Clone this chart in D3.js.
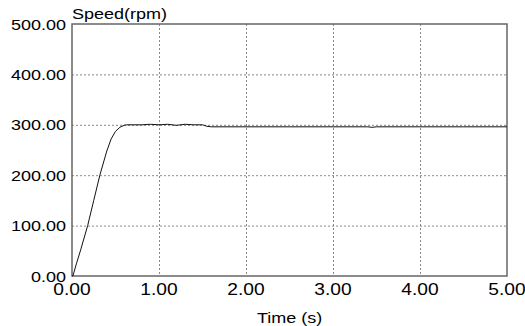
<!DOCTYPE html>
<html>
<head>
<meta charset="utf-8">
<script src="https://cdn.jsdelivr.net/npm/d3@7"></script>
<style>
  body { margin: 0; background: #fff; }
  text { font-family: "Liberation Sans", Arial, sans-serif; fill: #000; }
</style>
</head>
<body>
<script>
// speed response
var time  = [0, 0.01, 0.05, 0.10, 0.18, 0.25, 0.32, 0.40, 0.45, 0.50, 0.55, 0.60, 0.63, 0.70, 0.80, 0.90, 1.00, 1.10, 1.20, 1.30, 1.40, 1.50, 1.55, 1.60, 2.00, 2.50, 3.00, 3.40, 3.45, 3.50, 4.00, 4.50, 5.00];
var speed = [0, 0, 24, 52, 100, 150, 200, 248, 272, 287, 295, 299, 300, 300, 300, 301, 300, 301, 299, 301, 300, 300, 297, 296, 296, 296, 296, 296, 295, 296, 296, 296, 296];

var xTicks = [0, 1, 2, 3, 4, 5];
var yTicks = [0, 100, 200, 300, 400, 500];
var xTitle = "Time (s)";
var yTitle = "Speed(rpm)";

var width = 525, height = 326;
var pLeft = 72, pRight = 507, pTop = 24, pBottom = 276;
var sx = 1.2; // stretch the text a bit wider, like the original

var x = d3.scaleLinear().domain([0, 5]).range([pLeft, pRight]);
var y = d3.scaleLinear().domain([0, 500]).range([pBottom, pTop]);

var svg = d3.select("body").append("svg")
    .attr("width", width)
    .attr("height", height);

// grid
svg.append("g")
    .selectAll("line")
    .data(xTicks.slice(1, -1))
    .enter().append("line")
    .attr("x1", d => x(d) + 0.5).attr("x2", d => x(d) + 0.5)
    .attr("y1", pTop).attr("y2", pBottom)
    .attr("stroke", "#888")
    .attr("stroke-dasharray", "2,2");

svg.append("g")
    .selectAll("line")
    .data(yTicks.slice(1, -1))
    .enter().append("line")
    .attr("x1", pLeft).attr("x2", pRight)
    .attr("y1", d => y(d) + 0.5).attr("y2", d => y(d) + 0.5)
    .attr("stroke", "#888")
    .attr("stroke-dasharray", "2,2");

// frame
svg.append("rect")
    .attr("x", pLeft).attr("y", pTop)
    .attr("width", pRight - pLeft).attr("height", pBottom - pTop)
    .attr("fill", "none")
    .attr("stroke", "#666")
    .attr("stroke-width", 1.5);

// the curve
var line = d3.line()
    .x((d, i) => x(time[i]))
    .y(d => y(d));

svg.append("path")
    .datum(speed)
    .attr("d", line)
    .attr("fill", "none")
    .attr("stroke", "#111")
    .attr("stroke-width", 1);

// tick labels
svg.append("g")
    .selectAll("text")
    .data(yTicks)
    .enter().append("text")
    .attr("transform", d => "translate(66," + (y(d) + 5.5) + ") scale(" + sx + ",1)")
    .attr("text-anchor", "end")
    .style("font-size", "15px")
    .text(d => d.toFixed(2));

svg.append("g")
    .selectAll("text")
    .data(xTicks)
    .enter().append("text")
    .attr("transform", d => "translate(" + x(d) + ",295) scale(" + sx + ",1)")
    .attr("text-anchor", "middle")
    .style("font-size", "16px")
    .text(d => d.toFixed(2));

// titles
svg.append("text")
    .attr("transform", "translate(" + ((pLeft + pRight) / 2) + ",323) scale(" + sx + ",1)")
    .attr("text-anchor", "middle")
    .style("font-size", "15px")
    .text(xTitle);

svg.append("text")
    .attr("transform", "translate(" + pLeft + ",19) scale(" + sx + ",1)")
    .style("font-size", "15px")
    .text(yTitle);
</script>
</body>
</html>
